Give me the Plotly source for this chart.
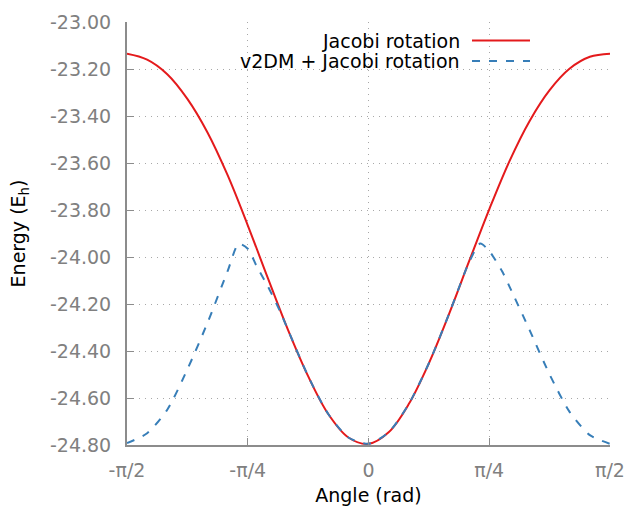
import math
import plotly.graph_objects as go

# ---- data ----
red_x = [-1.5708, -1.4399, -1.3090, -1.1781, -1.0472, -0.9163, -0.7854, -0.6545, -0.5236,
         -0.3927, -0.2618, -0.1309, 0.0, 0.1309, 0.2618, 0.3927, 0.5236, 0.6545, 0.7854,
         0.9163, 1.0472, 1.1781, 1.3090, 1.4399, 1.5708]
red_y = [-23.135, -23.16, -23.222, -23.327, -23.47, -23.652, -23.865, -24.09, -24.31,
         -24.507, -24.668, -24.768, -24.795, -24.746, -24.626, -24.452, -24.243, -24.018, -23.797,
         -23.593, -23.422, -23.29, -23.198, -23.148, -23.135]

blue_x = [-1.5708, -1.4399, -1.3090, -1.1781, -1.0472, -0.9163, -0.8446, -0.7854, -0.7262,
          -0.6545, -0.5746, -0.5236, -0.3927, -0.2618, -0.1309, 0.0, 0.1309, 0.2618, 0.3927,
          0.5236, 0.6545, 0.7268, 0.7854, 0.8680, 0.9163, 1.0472, 1.1781, 1.3090, 1.4399, 1.5708]
blue_y = [-24.792, -24.75, -24.65, -24.478, -24.28, -24.06, -23.944, -23.965, -24.041,
          -24.125, -24.232, -24.31, -24.507, -24.668, -24.768, -24.795, -24.746, -24.626, -24.452,
          -24.243, -24.022, -23.943, -23.975, -24.06, -24.125, -24.31, -24.50, -24.66, -24.758, -24.795]

red_name = "Jacobi rotation"
blue_name = "v2DM + Jacobi rotation"

x_tickvals = [-math.pi / 2, -math.pi / 4, 0, math.pi / 4, math.pi / 2]
x_ticktext = ["-π/2", "-π/4", "0", "π/4", "π/2"]
y_tickvals = [-24.8, -24.6, -24.4, -24.2, -24.0, -23.8, -23.6, -23.4, -23.2, -23.0]
y_ticktext = ["-24.80", "-24.60", "-24.40", "-24.20", "-24.00", "-23.80", "-23.60", "-23.40", "-23.20", "-23.00"]

RED = "#e41a1c"
BLUE = "#377eb8"
FONT = "DejaVu Sans"
FS = 19
GRID = "#a8a8a8"
AXIS = "#8c8c8c"
TICKC = "#808080"

L, R, T, B = 127, 14, 22, 61
W, H = 624, 506
PW, PH = W - L - R, H - T - B

fig = go.Figure()
fig.add_trace(go.Scatter(x=red_x, y=red_y, mode="lines", name=red_name,
                         line=dict(color=RED, width=2, shape="spline", smoothing=1.0),
                         showlegend=False))
fig.add_trace(go.Scatter(x=blue_x, y=blue_y, mode="lines", name=blue_name,
                         line=dict(color=BLUE, width=2, dash="8px,9px", shape="spline", smoothing=0.7),
                         showlegend=False))

# white strip behind key (hides gridline there, as in the reference)
fig.add_shape(type="line", xref="paper", yref="y", x0=(193 - L) / PW, x1=(541 - L) / PW,
              y0=-23.2, y1=-23.2, line=dict(color="white", width=3), layer="between")

# manual key (gnuplot style: text, then line sample on the right)
key_rows = [(red_name, RED, "solid", 40.5), (blue_name, BLUE, "8px,9px", 61)]
for name, col, dash, py in key_rows:
    yp = 1 - (py - T) / PH
    fig.add_annotation(x=(462 - L) / PW, y=yp, xref="paper", yref="paper", text=name,
                       showarrow=False, xanchor="right", yanchor="middle",
                       font=dict(family=FONT, size=FS, color="black"))
    fig.add_shape(type="line", xref="paper", yref="paper", x0=(472 - L) / PW, x1=(530 - L) / PW,
                  y0=yp, y1=yp, line=dict(color=col, width=2, dash=dash))

fig.update_layout(
    width=W, height=H,
    margin=dict(l=L, r=R, t=T, b=B),
    paper_bgcolor="white", plot_bgcolor="white",
    font=dict(family=FONT, size=FS, color=TICKC),
)
fig.update_xaxes(
    range=[-math.pi / 2, math.pi / 2], tickvals=x_tickvals, ticktext=x_ticktext,
    automargin=False, ticklabeloverflow="allow",
    showline=True, linecolor=AXIS, linewidth=2, ticks="inside", ticklen=7, tickcolor=AXIS,
    showgrid=True, gridcolor=GRID, gridwidth=1, griddash="1px,5px", zeroline=False,
    tickfont=dict(family=FONT, size=FS, color=TICKC), ticklabelstandoff=7,
    title=dict(text="Angle (rad)", font=dict(family=FONT, size=FS, color="black"), standoff=14),
)
fig.update_yaxes(
    range=[-24.8, -23.0], tickvals=y_tickvals, ticktext=y_ticktext,
    automargin=False, ticklabeloverflow="allow",
    showline=True, linecolor=AXIS, linewidth=2, ticks="inside", ticklen=7, tickcolor=AXIS,
    showgrid=True, gridcolor=GRID, gridwidth=1, griddash="1px,5px", zeroline=False,
    tickfont=dict(family=FONT, size=FS, color=TICKC), ticklabelstandoff=10,
    title=dict(text="Energy (E<sub>h</sub>)", font=dict(family=FONT, size=FS, color="black"), standoff=19),
)

fig.write_html("out.html")
